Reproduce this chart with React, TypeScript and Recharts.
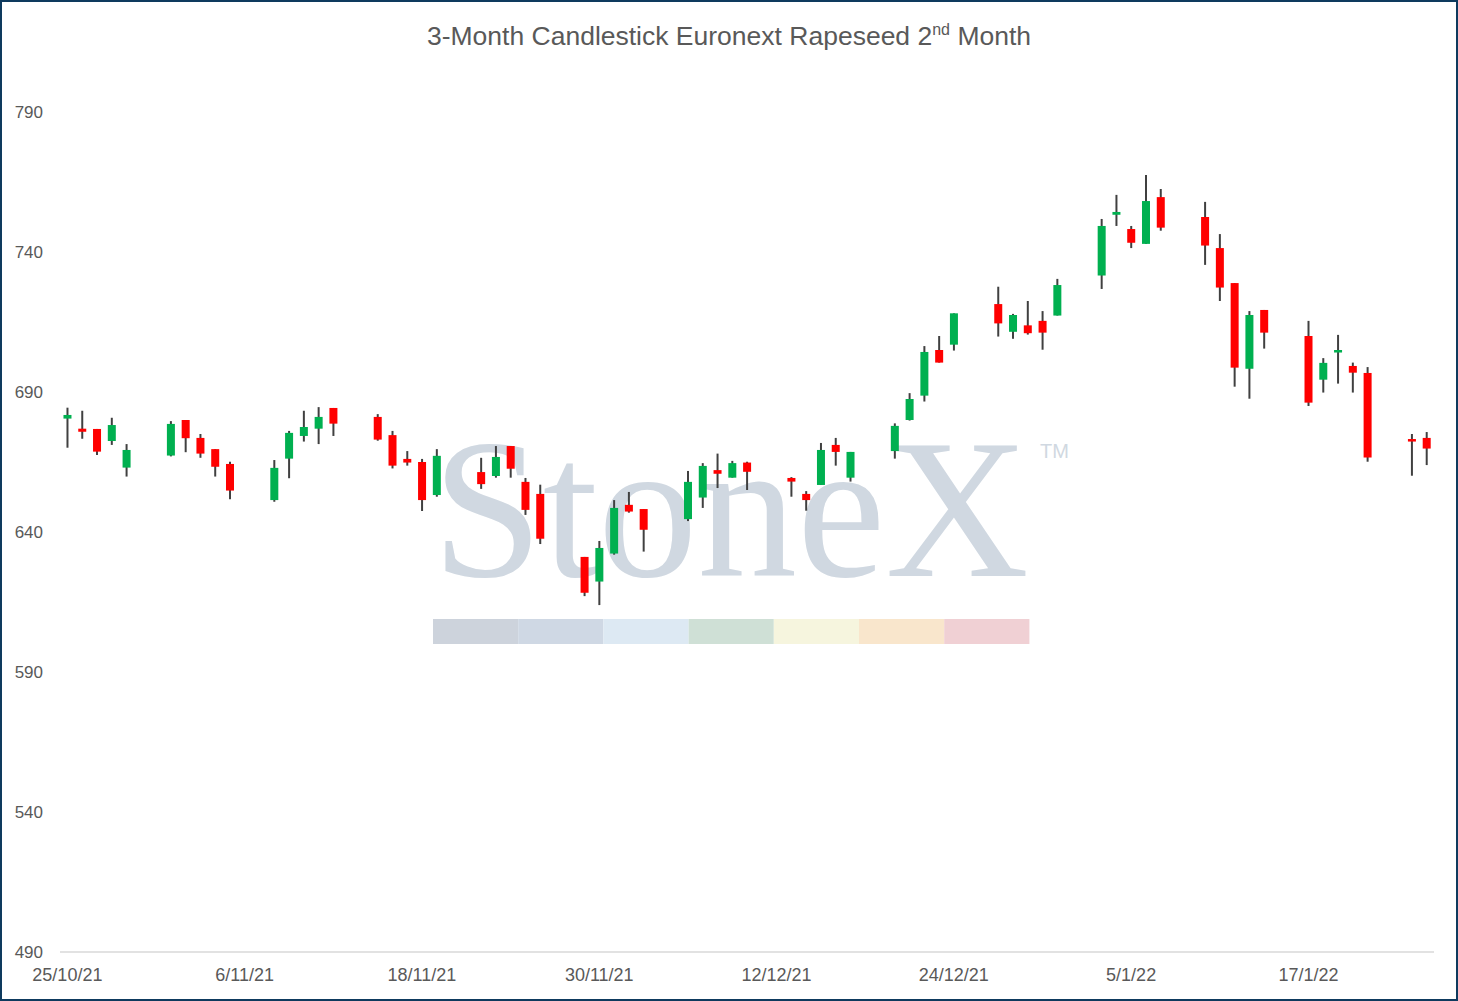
import { ComposedChart, Bar, XAxis, YAxis } from 'recharts'

// trading days shown on the chart
const tradeDates = [
  '2021-10-25', '2021-10-26', '2021-10-27', '2021-10-28', '2021-10-29',
  '2021-11-01', '2021-11-02', '2021-11-03', '2021-11-04', '2021-11-05',
  '2021-11-08', '2021-11-09', '2021-11-10', '2021-11-11', '2021-11-12',
  '2021-11-15', '2021-11-16', '2021-11-17', '2021-11-18', '2021-11-19',
  '2021-11-22', '2021-11-23', '2021-11-24', '2021-11-25', '2021-11-26',
  '2021-11-29', '2021-11-30',
  '2021-12-01', '2021-12-02', '2021-12-03',
  '2021-12-06', '2021-12-07', '2021-12-08', '2021-12-09', '2021-12-10',
  '2021-12-13', '2021-12-14', '2021-12-15', '2021-12-16', '2021-12-17',
  '2021-12-20', '2021-12-21', '2021-12-22', '2021-12-23', '2021-12-24',
  '2021-12-27', '2021-12-28', '2021-12-29', '2021-12-30', '2021-12-31',
  '2022-01-03', '2022-01-04', '2022-01-05', '2022-01-06', '2022-01-07',
  '2022-01-10', '2022-01-11', '2022-01-12', '2022-01-13', '2022-01-14',
  '2022-01-17', '2022-01-18', '2022-01-19', '2022-01-20', '2022-01-21',
  '2022-01-24', '2022-01-25',
]

const openPrices = [
  680.5, 676.9, 676.8, 672.5, 663.0,
  667.3, 680.0, 673.6, 669.6, 664.3,
  651.4, 666.2, 674.3, 676.9, 684.3,
  681.1, 674.6, 666.1, 665.0, 653.2,
  661.4, 660.0, 670.7, 657.9, 653.6,
  631.1, 622.3,
  632.3, 649.7, 648.2,
  644.6, 652.3, 662.1, 659.4, 664.8,
  659.3, 653.6, 656.8, 671.1, 659.4,
  668.9, 680.0, 688.7, 705.0, 706.9,
  721.4, 711.5, 713.8, 715.4, 717.3,
  731.6, 753.3, 748.2, 742.9, 759.6,
  752.5, 741.4, 728.9, 698.3, 719.3,
  710.0, 694.4, 704.1, 699.3, 696.8,
  673.2, 673.6,
]

const highPrices = [
  684.4, 683.3, 676.8, 680.8, 671.4,
  679.6, 680.0, 675.0, 669.6, 665.1,
  665.7, 676.1, 683.3, 684.6, 684.3,
  682.1, 676.1, 668.9, 666.1, 669.6,
  666.5, 670.7, 670.7, 659.3, 656.9,
  631.1, 636.8,
  651.4, 654.3, 648.2,
  661.8, 664.6, 668.0, 665.4, 665.1,
  659.6, 654.6, 671.8, 673.6, 668.6,
  678.8, 689.6, 706.4, 710.0, 718.1,
  727.6, 717.9, 722.5, 718.9, 730.4,
  751.8, 760.4, 749.3, 767.5, 762.5,
  757.9, 746.4, 728.9, 718.9, 719.3,
  715.4, 702.1, 710.4, 700.5, 698.9,
  675.0, 675.7,
]

const lowPrices = [
  670.1, 673.3, 667.5, 671.1, 659.8,
  667.0, 668.5, 666.5, 659.8, 651.7,
  650.8, 659.2, 672.3, 671.4, 674.3,
  672.6, 662.7, 663.7, 647.5, 652.6,
  655.4, 659.4, 659.4, 646.1, 635.7,
  617.1, 613.9,
  631.9, 646.9, 633.0,
  643.9, 648.6, 655.7, 659.4, 655.0,
  652.6, 647.6, 656.8, 663.7, 658.0,
  666.2, 679.8, 686.6, 700.5, 704.8,
  709.8, 709.0, 710.5, 705.1, 717.3,
  726.8, 749.3, 741.4, 742.9, 747.6,
  735.4, 722.5, 691.9, 687.6, 705.5,
  685.0, 689.8, 693.0, 689.8, 665.1,
  660.1, 663.9,
]

const closePrices = [
  681.8, 675.8, 668.7, 678.2, 669.3,
  678.6, 673.5, 668.0, 663.3, 654.8,
  662.9, 675.4, 677.5, 681.1, 678.7,
  673.0, 663.7, 664.8, 651.4, 667.2,
  657.1, 666.8, 662.6, 647.9, 637.6,
  618.3, 634.3,
  648.6, 647.3, 640.8,
  657.9, 663.6, 660.8, 664.6, 661.5,
  658.0, 651.4, 669.3, 668.6, 668.6,
  677.9, 687.5, 704.3, 700.5, 718.1,
  714.5, 717.5, 711.0, 711.2, 728.2,
  749.3, 754.3, 743.3, 758.2, 748.7,
  742.3, 727.3, 698.7, 717.5, 711.2,
  686.2, 700.4, 705.0, 696.9, 666.6,
  672.3, 669.8,
]

const yTicks = [490, 540, 590, 640, 690, 740, 790]

const UP = '#00B050'
const DOWN = '#FF0000'
const WICK = '#404040'

// date axis: one slot per calendar day, weekends left empty
function buildRows() {
  const rows: any[] = []
  const start = Date.UTC(2021, 9, 25)
  const end = Date.UTC(2022, 0, 25)
  for (let t = start; t <= end; t += 86400000) {
    const d = new Date(t)
    const iso = d.toISOString().slice(0, 10)
    const label = `${d.getUTCDate()}/${d.getUTCMonth() + 1}/${String(d.getUTCFullYear()).slice(2)}`
    const i = tradeDates.indexOf(iso)
    rows.push(
      i < 0
        ? { label }
        : {
            label,
            open: openPrices[i],
            high: highPrices[i],
            low: lowPrices[i],
            close: closePrices[i],
            range: [lowPrices[i], highPrices[i]],
          }
    )
  }
  return rows
}

const rows = buildRows()

function Candle(props: any) {
  const { x, y, width, height, payload } = props
  if (!payload || payload.high == null) return null
  const { open, high, low, close } = payload
  const top = Math.min(y, y + height)
  const h = Math.abs(height)
  const k = high > low ? h / (high - low) : 0
  const cx = x + width / 2
  const yOpen = top + (high - open) * k
  const yClose = top + (high - close) * k
  const bodyTop = Math.min(yOpen, yClose)
  const bodyH = Math.max(Math.abs(yOpen - yClose), 2)
  const color = close >= open ? UP : DOWN
  return (
    <g>
      <line x1={cx} x2={cx} y1={top} y2={top + h} stroke={WICK} strokeWidth={2} />
      <rect x={cx - 4} y={bodyTop} width={8} height={bodyH} fill={color} />
    </g>
  )
}

const wmColors = ['#CDD3DC', '#CFD8E4', '#DDE9F3', '#CFE0D6', '#F6F5DE', '#F9E6CC', '#F0D0D4']

function Watermark() {
  return (
    <svg width={1458} height={1001} style={{ position: 'absolute', left: 0, top: 0 }}>
      <text
        x={432}
        y={576}
        fontFamily="'Liberation Serif', 'DejaVu Serif', serif"
        fontSize={199}
        fill="#D0D8E1"
      >
        StoneX
      </text>
      <text x={1040} y={458} fontFamily="'Liberation Sans', sans-serif" fontSize={20} fill="#D0D8E1">
        TM
      </text>
      {wmColors.map((c, i) => (
        <rect key={c} x={433 + i * 85.2} y={619} width={85.2} height={25} fill={c} />
      ))}
    </svg>
  )
}

export default function App() {
  return (
    <div
      style={{
        position: 'absolute',
        left: 0,
        top: 0,
        width: 1458,
        height: 1001,
        boxSizing: 'border-box',
        border: '2px solid #0E3A5E',
        background: '#FFFFFF',
        overflow: 'hidden',
        fontFamily: "'Liberation Sans', Arial, sans-serif",
      }}
    >
      <div style={{ position: 'absolute', left: -2, top: -2 }}>
        <Watermark />
      </div>
      <div
        style={{
          position: 'absolute',
          left: -2,
          top: 19,
          width: 1458,
          textAlign: 'center',
          fontSize: 26.5,
          color: '#595959',
        }}
      >
        3-Month Candlestick Euronext Rapeseed 2<sup style={{ fontSize: 16 }}>nd</sup> Month
      </div>
      <div style={{ position: 'absolute', left: -2, top: -2 }}>
        <ComposedChart
          width={1458}
          height={1001}
          data={rows}
          margin={{ top: 56, right: 24, bottom: 19, left: 0 }}
        >
          <XAxis
            dataKey="label"
            interval={11}
            height={30}
            tickLine={false}
            tickSize={0}
            tickMargin={16}
            axisLine={{ stroke: '#D9D9D9', strokeWidth: 1.5 }}
            tick={{ fill: '#595959', fontSize: 18 }}
          />
          <YAxis
            domain={[490, 810]}
            ticks={yTicks}
            width={60}
            axisLine={false}
            tickLine={false}
            tickSize={0}
            tickMargin={17}
            tick={{ fill: '#595959', fontSize: 17 }}
          />
          <Bar dataKey="range" shape={<Candle />} isAnimationActive={false} />
        </ComposedChart>
      </div>
    </div>
  )
}
